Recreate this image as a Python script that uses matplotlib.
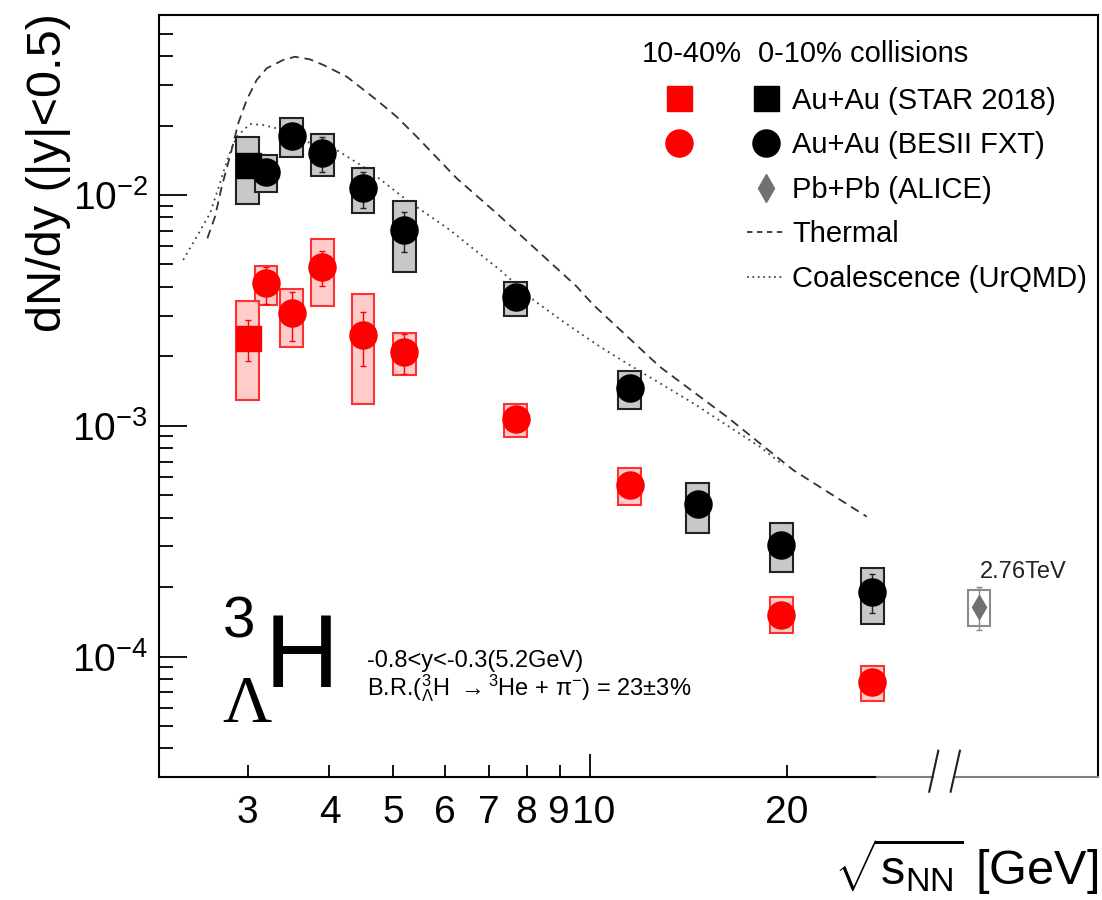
"""
Hypertriton (3ΛH) dN/dy vs collision energy — STAR BES-II FXT / STAR 2018 / ALICE
"""

import matplotlib
matplotlib.use("Agg")
import matplotlib.pyplot as plt
import matplotlib.transforms as mtransforms
from matplotlib.patches import Rectangle
from matplotlib.lines import Line2D
from matplotlib.legend_handler import HandlerTuple
from matplotlib.ticker import LogLocator, NullFormatter

plt.rcParams["font.family"] = ["Liberation Sans", "DejaVu Sans"]
plt.rcParams["mathtext.fontset"] = "custom"
plt.rcParams["mathtext.rm"] = "Liberation Sans"
plt.rcParams["mathtext.it"] = "Liberation Sans:italic"
plt.rcParams["mathtext.bf"] = "Liberation Sans:bold"

# ---- data ----
# 0-10% Au+Au BESII FXT
c_e = [3.2, 3.5, 3.9, 4.5, 5.2, 7.7, 11.5, 14.6, 19.6, 27.0]
c_y = [0.01262, 0.01803, 0.01525, 0.01069, 0.00705, 0.00362, 0.001462, 0.000457, 0.000305, 0.000191]
c_sys_lo = [0.01033, 0.01456, 0.01213, 0.00833, 0.00463, 0.00300, 0.001185, 0.000342, 0.000233, 0.000139]
c_sys_hi = [0.0149, 0.0215, 0.01837, 0.01312, 0.00945, 0.00421, 0.001734, 0.000566, 0.000380, 0.000242]
c_stat_lo = [0.0118, 0.0170, 0.01254, 0.00876, 0.00567, 0.00340, 0.00138, 0.000430, 0.000290, 0.000154]
c_stat_hi = [0.0135, 0.0191, 0.0179, 0.01262, 0.00841, 0.00385, 0.00155, 0.000480, 0.000320, 0.000228]

# 10-40% Au+Au BESII FXT
p_e = [3.2, 3.5, 3.9, 4.5, 5.2, 7.7, 11.5, 19.6, 27.0]
p_y = [0.00414, 0.00307, 0.00489, 0.00247, 0.00209, 0.001067, 0.000554, 0.000152, 7.78e-5]
p_sys_lo = [0.00333, 0.00220, 0.00331, 0.00124, 0.00166, 0.000897, 0.000454, 0.000126, 6.44e-5]
p_sys_hi = [0.00494, 0.00393, 0.00647, 0.00372, 0.00252, 0.00124, 0.000658, 0.000181, 9.1e-5]
p_stat_lo = [0.00338, 0.00234, 0.00404, 0.00182, 0.00168, 0.00101, 0.00052, 0.000145, 7.4e-5]
p_stat_hi = [0.00489, 0.00379, 0.00574, 0.00312, 0.00249, 0.00113, 0.00059, 0.000160, 8.2e-5]

# STAR 2018 (3 GeV): [0-10%, 10-40%]
star_e = [3.0, 3.0]
star_y = [0.01349, 0.00239]
star_sys_lo = [0.00914, 0.001294]
star_sys_hi = [0.0178, 0.00347]
star_stat_lo = [0.0126, 0.0019]
star_stat_hi = [0.0145, 0.00287]

# ALICE Pb+Pb 2.76 TeV, drawn right of the axis break
alice_e = [39.3]
alice_y = [0.000164]
alice_sys_lo = [0.000136]
alice_sys_hi = [0.000195]
alice_stat_lo = [0.000131]
alice_stat_hi = [0.000200]

# model curves
thermal_e = [2.603, 2.674, 2.738, 2.818, 2.902, 2.989, 3.096, 3.207, 3.401, 3.542, 3.734, 3.914,
             4.250, 4.722, 5.066, 5.436, 6.257, 7.202, 8.290, 9.543, 10.12, 12.79, 16.18, 20.44, 26.47]
thermal_y = [0.00649, 0.00805, 0.01086, 0.01466, 0.02045, 0.0258, 0.0315, 0.0354, 0.0385, 0.0397, 0.0387,
             0.0366, 0.03256, 0.0258, 0.02183, 0.01789, 0.01181, 0.00833, 0.00578, 0.00401, 0.00334,
             0.00180, 0.001095, 0.000643, 0.000404]
coal_e = [2.391, 2.507, 2.628, 2.721, 2.802, 2.886, 3.024, 3.169, 3.401, 3.606, 4.102, 4.505, 4.833,
          5.248, 6.110, 6.871, 7.287, 8.193, 9.103, 10.36, 11.38, 14.38, 18.18, 19.74]
coal_y = [0.00523, 0.0066, 0.00833, 0.01124, 0.01466, 0.01789, 0.0203, 0.0201, 0.01912, 0.0173, 0.01567,
          0.01326, 0.01142, 0.00951, 0.00705, 0.0054, 0.00473, 0.00351, 0.002825, 0.0022, 0.001866,
          0.001252, 0.000811, 0.000676]

x_minor_ticks = [3, 4, 5, 6, 7, 8, 9, 20]
x_minor_labels = ["3", "4", "5", "6", "7", "8", "9", "20"]
x_major_ticks = [10]
x_major_labels = ["10"]

XLIM = (2.196, 59.72)
YLIM = (3.008e-5, 0.06024)
BOX_F = 1.041  # half-width of syst. boxes (multiplicative, log-x)

RED = "#ff0000"
BOX_GRAY = "#c8c8c8"
BOX_PINK = "#ffcccc"


def draw_set(ax, e, y, slo, shi, tlo, thi, marker, ms, color, face, edge, zo=3):
    for xi, lo, hi in zip(e, slo, shi):
        ax.add_patch(Rectangle((xi / BOX_F, lo), xi * BOX_F - xi / BOX_F, hi - lo,
                               facecolor=face, edgecolor=edge, lw=1.5, zorder=zo))
    yerr = [[yi - lo for yi, lo in zip(y, tlo)], [hi - yi for yi, hi in zip(y, thi)]]
    ax.errorbar(e, y, yerr=yerr, fmt="none", ecolor=edge if color != RED else RED,
                elinewidth=1.0, capsize=2.5, capthick=1.0, zorder=zo + 1)
    ax.plot(e, y, ls="none", marker=marker, ms=ms, color=color, mec=color, zorder=zo + 2)


def main():
    fig = plt.figure(figsize=(11.02, 9.0), dpi=100)
    ax = fig.add_axes([0.1443, 0.13667, 0.8521, 0.84667])
    ax.set_xscale("log")
    ax.set_yscale("log")
    ax.set_xlim(*XLIM)
    ax.set_ylim(*YLIM)

    # models
    ax.plot(thermal_e, thermal_y, color="#333333", lw=1.3, ls=(0, (5, 3.2)), zorder=1)
    ax.plot(coal_e, coal_y, color="#444444", lw=1.3, ls=(0, (1, 2.4)), zorder=1)

    # data
    draw_set(ax, p_e, p_y, p_sys_lo, p_sys_hi, p_stat_lo, p_stat_hi, "o", 19.5, RED, BOX_PINK, "#ff3030")
    draw_set(ax, star_e[1:], star_y[1:], star_sys_lo[1:], star_sys_hi[1:], star_stat_lo[1:],
             star_stat_hi[1:], "s", 18, RED, BOX_PINK, "#ff3030")
    draw_set(ax, star_e[:1], star_y[:1], star_sys_lo[:1], star_sys_hi[:1], star_stat_lo[:1],
             star_stat_hi[:1], "s", 18, "black", BOX_GRAY, "#222222")
    draw_set(ax, c_e, c_y, c_sys_lo, c_sys_hi, c_stat_lo, c_stat_hi, "o", 19.5, "black", BOX_GRAY, "#222222")
    draw_set(ax, alice_e, alice_y, alice_sys_lo, alice_sys_hi, alice_stat_lo, alice_stat_hi,
             "d", 12, "#707070", "none", "#8a8a8a")

    # axes styling
    for s in ["top", "right", "left", "bottom"]:
        ax.spines[s].set_linewidth(1.5)
    ax.spines["bottom"].set_bounds(XLIM[0], 27.44)
    bt = mtransforms.blended_transform_factory(ax.transData, ax.transAxes)
    ax.plot([27.44, 33.42], [0, 0], color="#808080", lw=1.5, transform=bt, clip_on=False, zorder=5)
    ax.plot([35.98, XLIM[1]], [0, 0], color="#808080", lw=1.5, transform=bt, clip_on=False, zorder=5)
    ax.plot([32.98, 34.05], [-0.0193, 0.0345], color="#222222", lw=1.5, transform=bt, clip_on=False, zorder=5)
    ax.plot([35.56, 36.74], [-0.0193, 0.0345], color="#222222", lw=1.5, transform=bt, clip_on=False, zorder=5)

    ax.yaxis.set_major_locator(LogLocator(base=10, numticks=10))
    ax.yaxis.set_minor_locator(LogLocator(base=10, subs=range(2, 10), numticks=20))
    ax.yaxis.set_minor_formatter(NullFormatter())
    ax.set_xticks(x_major_ticks, labels=x_major_labels)
    ax.set_xticks(x_minor_ticks, labels=x_minor_labels, minor=True)

    ax.tick_params(axis="y", which="major", direction="in", length=20, width=1.3, labelsize=28, pad=8)
    ax.tick_params(axis="y", which="minor", direction="in", length=10, width=1.3)
    ax.tick_params(axis="x", which="major", direction="in", length=16.5, width=1.3, labelsize=28, pad=13)
    ax.tick_params(axis="x", which="minor", direction="in", length=8.6, width=1.3, labelsize=28, pad=13)

    # "9" and "10" sit tight together like in the original, nudge them apart a bit
    for t in ax.xaxis.get_major_ticks():
        t.label1.set_transform(t.label1.get_transform()
                               + mtransforms.ScaledTranslation(0.04, 0, fig.dpi_scale_trans))
    nine = ax.xaxis.get_minor_ticks()[6]
    nine.label1.set_transform(nine.label1.get_transform()
                              + mtransforms.ScaledTranslation(-0.02, 0, fig.dpi_scale_trans))

    ax.text(-0.118, 1.003, "dN/dy (|y|<0.5)", rotation=90, ha="center", va="top",
            fontsize=35, transform=ax.transAxes)
    ax.text(1.0, -0.1417, r"$\sqrt{\mathrm{s}_{\mathrm{NN}}}$ [GeV]", ha="right", va="baseline",
            fontsize=35, transform=ax.transAxes)

    # particle label
    ax.text(0.0682, 0.1837, "3", fontsize=42, ha="left", va="baseline", transform=ax.transAxes)
    ax.text(0.0671, 0.0722, "Λ", fontsize=49, ha="left", va="baseline", family="Liberation Serif",
            transform=ax.transAxes)
    ax.text(0.1129, 0.1181, "H", fontsize=74, ha="left", va="baseline", transform=ax.transAxes)
    ax.text(0.2215, 0.1444, "-0.8<y<-0.3(5.2GeV)", fontsize=17, ha="left", va="baseline",
            transform=ax.transAxes)
    ax.text(0.2215, 0.1076,
            r"B.R.(${}^{3}_{\Lambda}$H $\rightarrow^{3}$He + $\mathrm{\pi}^{-}$) = 23$\pm$3%",
            fontsize=17, ha="left", va="baseline", transform=ax.transAxes)
    ax.text(0.8743, 0.2608, "2.76TeV", fontsize=17, ha="left", va="baseline", color="#222222",
            transform=ax.transAxes)

    # legend
    ax.text(0.514, 0.9387, "10-40%", fontsize=21, ha="left", va="baseline", transform=ax.transAxes)
    ax.text(0.638, 0.9387, "0-10% collisions", fontsize=21, ha="left", va="baseline", transform=ax.transAxes)
    blank = Line2D([], [], ls="none")
    handles = [
        (Line2D([], [], ls="none", marker="s", ms=18, color=RED),
         Line2D([], [], ls="none", marker="s", ms=18, color="black")),
        (Line2D([], [], ls="none", marker="o", ms=19.5, color=RED),
         Line2D([], [], ls="none", marker="o", ms=19.5, color="black")),
        (blank, Line2D([], [], ls="none", marker="d", ms=14, color="#707070")),
        (blank, Line2D([], [], color="#333333", lw=1.3, ls=(0, (3, 2.5)))),
        (blank, Line2D([], [], color="#444444", lw=1.3, ls=(0, (1, 2)))),
    ]
    labels = ["Au+Au (STAR 2018)", "Au+Au (BESII FXT)", "Pb+Pb (ALICE)", "Thermal", "Coalescence (UrQMD)"]
    ax.legend(handles, labels, handler_map={tuple: HandlerTuple(ndivide=2, pad=1.71)},
              loc="upper left", bbox_to_anchor=(0.534, 0.906), frameon=False, fontsize=21,
              handlelength=4.25, handletextpad=0.26, labelspacing=0.57, borderpad=0,
              borderaxespad=0, numpoints=1)

    fig.savefig("out.png", dpi=100)
    plt.close(fig)


if __name__ == "__main__":
    main()
